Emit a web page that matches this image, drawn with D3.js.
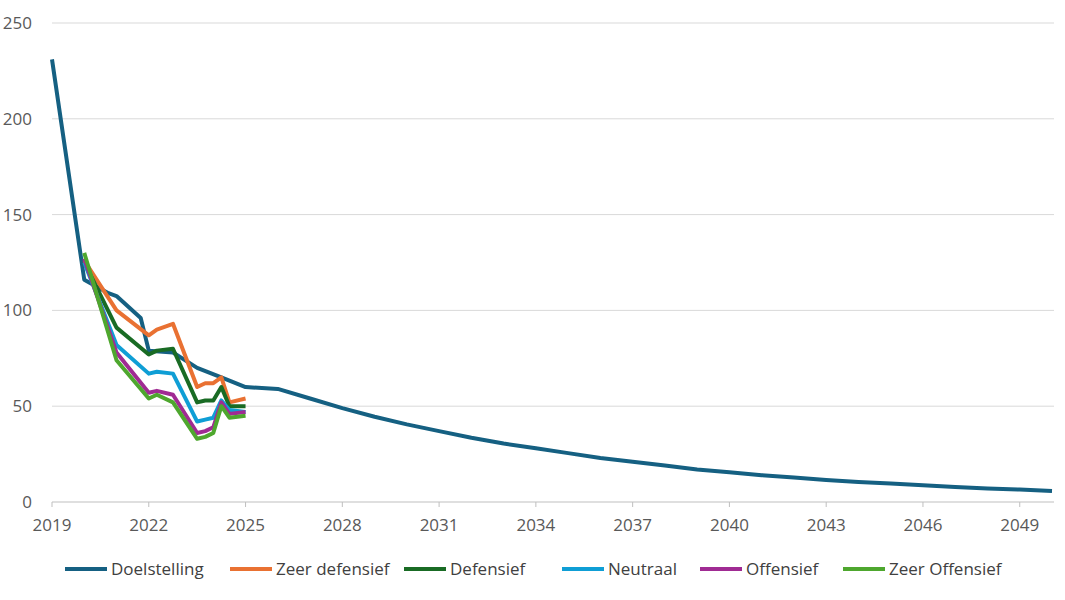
<!DOCTYPE html><html><head><meta charset="utf-8"><script src="https://cdn.jsdelivr.net/npm/d3@7"></script>
<style>body{margin:0;background:#fff}text{font-family:"Open Sans",Arial,sans-serif}</style></head><body><svg width="1065" height="600"></svg><script>
const names=["Doelstelling","Zeer defensief","Defensief","Neutraal","Offensief","Zeer Offensief"];
const colors=["#156082","#e97132","#196b24","#0f9ed5","#a02b93","#4ea72e"];
const yTicks=[0,50,100,150,200,250];
const xTicks=[2019,2022,2025,2028,2031,2034,2037,2040,2043,2046,2049];
const doel=[[2019,231],[2020,116],[2020.75,109],[2021,107.5],[2021.75,96],[2022,79],[2022.75,78],[2023.5,70],[2024.25,65],[2025,60],[2026,59],[2027,54],[2028,49],[2029,44.5],[2030,40.5],[2031,37],[2032,33.5],[2033,30.5],[2034,28],[2035,25.5],[2036,23],[2037,21],[2038,19],[2039,17],[2040,15.5],[2041,14],[2042,12.8],[2043,11.5],[2044,10.5],[2045,9.6],[2046,8.8],[2047,7.8],[2048,7],[2049,6.5],[2050,5.8]];
const qx=[2020,2021,2022,2022.25,2022.75,2023.5,2023.75,2024,2024.25,2024.5,2025];
const zeerDef=[126,100,87,90,93,60,62,62,65,52,54];
const def=[125,91,77,79,80,52,53,53,60,50,50];
const neutraal=[125,82,67,68,67,42,43,44,53,48,47];
const off=[127,78,57,58,56,36,37,39,52,46,47];
const zeerOff=[130,74,54,56,52,33,34,36,50,44,45];
const svg=d3.select("svg");
const x=d3.scaleLinear().domain([2019,2050]).range([52,1052]);
const y=d3.scaleLinear().domain([0,250]).range([502,23]);
svg.append("g").selectAll("line").data(yTicks.slice(1)).join("line").attr("x1",52).attr("x2",1054).attr("y1",d=>y(d)).attr("y2",d=>y(d)).attr("stroke","#d9d9d9");
svg.append("line").attr("x1",52).attr("x2",1054).attr("y1",502).attr("y2",502).attr("stroke","#bfbfbf");
svg.append("g").selectAll("line").data(xTicks).join("line").attr("x1",d=>x(d)).attr("x2",d=>x(d)).attr("y1",502).attr("y2",507).attr("stroke","#bfbfbf");
svg.append("g").selectAll("text").data(yTicks).join("text").attr("x",32).attr("y",d=>y(d)+6).attr("text-anchor","end").attr("font-size",17).attr("fill","#595959").text(d=>d);
svg.append("g").selectAll("text").data(xTicks).join("text").attr("x",d=>x(d)).attr("y",531).attr("text-anchor","middle").attr("font-size",17).attr("fill","#595959").text(d=>d);
const line=d3.line().x(d=>x(d[0])).y(d=>y(d[1]));
const series=[doel,...[zeerDef,def,neutraal,off,zeerOff].map(v=>v.map((d,i)=>[qx[i],d]))];
series.forEach((s,i)=>svg.append("path").datum(s).attr("d",line).attr("fill","none").attr("stroke",colors[i]).attr("stroke-width",4).attr("stroke-linejoin","round"));
const lx=[65,230,404,562,700,843];
names.forEach((n,i)=>{const g=svg.append("g");g.append("line").attr("x1",lx[i]).attr("x2",lx[i]+42).attr("y1",569).attr("y2",569).attr("stroke",colors[i]).attr("stroke-width",4);
g.append("text").attr("x",lx[i]+46).attr("y",575).attr("font-size",17).attr("fill","#404040").text(n);});
</script></body></html>
